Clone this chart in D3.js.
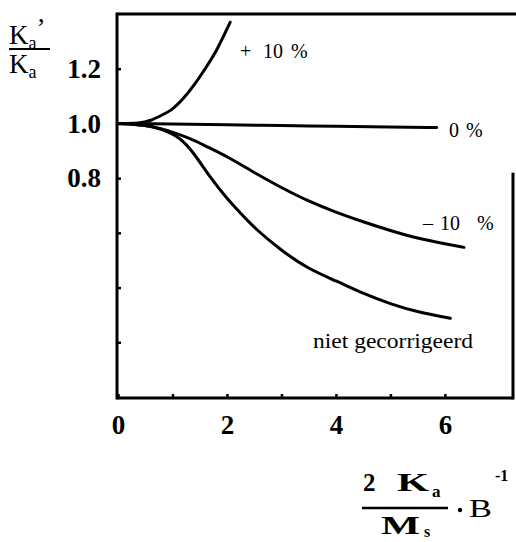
<!DOCTYPE html>
<html>
<head>
<meta charset="utf-8">
<script src="https://cdn.jsdelivr.net/npm/d3@7"></script>
<style>
  html, body { margin: 0; padding: 0; background: #fff; }
  svg { display: block; }
  text { font-family: "Liberation Serif", "DejaVu Serif", serif; fill: #000; }
</style>
</head>
<body>
<svg id="chart" width="516" height="542"></svg>
<script>
// Field values: x = 2Ka/Ms · B^-1, y = Ka'/Ka
const curveNames = ["+ 10 %", "0 %", "- 10 %", "niet gecorrigeerd"];

const plusTenX  = [0, 0.4, 0.6, 0.8, 1.0, 1.2, 1.4, 1.6, 1.8, 2.06];
const plusTenY  = [1.0, 1.0, 1.01, 1.03, 1.05, 1.09, 1.14, 1.2, 1.26, 1.37];

const zeroX     = [0, 1, 2, 3, 4, 5, 5.85];
const zeroY     = [1.0, 0.998, 0.995, 0.992, 0.99, 0.987, 0.985];

const minusTenX = [0, 0.5, 0.8, 1.0, 1.33, 1.6, 2.0, 2.5, 3.0, 3.5, 4.0, 4.5, 5.0, 5.5, 6.0, 6.35];
const minusTenY = [1.0, 0.995, 0.98, 0.968, 0.945, 0.918, 0.88, 0.82, 0.765, 0.715, 0.675, 0.64, 0.608, 0.58, 0.56, 0.547];

const rawX      = [0, 0.5, 0.8, 1.14, 1.4, 1.69, 2.0, 2.25, 2.5, 3.0, 3.5, 4.0, 4.5, 5.0, 5.5, 6.1];
const rawY      = [1.0, 0.995, 0.98, 0.95, 0.89, 0.803, 0.725, 0.672, 0.618, 0.535, 0.467, 0.425, 0.378, 0.34, 0.31, 0.288];

const xTicks = [0, 1, 2, 3, 4, 5, 6];
const xTickLabels = ["0", "", "2", "", "4", "", "6"];
const yTicks = [0.2, 0.4, 0.6, 0.8, 1.0, 1.2];
const yTickLabels = ["", "", "", "0.8", "1.0", "1.2"];

const svg = d3.select("#chart");

const x = d3.scaleLinear().domain([0, 7.25]).range([118, 513]);
const y = d3.scaleLinear().domain([0, 1.4]).range([397, 14]);

// Frame
const frame = svg.append("g").attr("stroke", "#000").attr("stroke-width", 3).attr("fill", "none");
frame.append("line").attr("x1", x(0) - 1).attr("x2", 516).attr("y1", y(1.4)).attr("y2", y(1.4));
frame.append("line").attr("x1", x(0) - 1).attr("x2", x(0) - 1).attr("y1", y(1.4) - 1.5).attr("y2", y(0) + 2.5);
frame.append("line").attr("x1", x(0) - 1).attr("x2", x(7.25)).attr("y1", y(0) + 1).attr("y2", y(0) + 1);
frame.append("line").attr("x1", x(7.25)).attr("x2", x(7.25)).attr("y1", y(0.82)).attr("y2", y(0) + 2.5);

// Axes with inward ticks
const xAxis = d3.axisBottom(x)
  .tickValues(xTicks)
  .tickSizeInner(-4)
  .tickSizeOuter(0)
  .tickPadding(17)
  .tickFormat((d, i) => xTickLabels[i]);

const gx = svg.append("g").attr("transform", `translate(0,${y(0) + 1})`).call(xAxis);
gx.select(".domain").remove();
gx.selectAll(".tick line").attr("stroke", "#000").attr("stroke-width", 2.5);
gx.selectAll(".tick text")
  .style("font-family", "'Liberation Serif', 'DejaVu Serif', serif")
  .style("font-weight", "bold")
  .style("font-size", "27px")
  .attr("fill", "#000");

const yAxis = d3.axisLeft(y)
  .tickValues(yTicks)
  .tickSizeInner(-4)
  .tickSizeOuter(0)
  .tickPadding(16)
  .tickFormat((d, i) => yTickLabels[i]);

const gy = svg.append("g").attr("transform", `translate(${x(0) - 1},0)`).call(yAxis);
gy.select(".domain").remove();
gy.selectAll(".tick line").attr("stroke", "#000").attr("stroke-width", 2.5);
gy.selectAll(".tick text")
  .style("font-family", "'Liberation Serif', 'DejaVu Serif', serif")
  .style("font-weight", "bold")
  .style("font-size", "27px")
  .attr("fill", "#000");

// Curves
const line = d3.line()
  .x(d => x(d[0]))
  .y(d => y(d[1]))
  .curve(d3.curveBasis);

const series = [
  [plusTenX, plusTenY],
  [zeroX, zeroY],
  [minusTenX, minusTenY],
  [rawX, rawY]
];

svg.append("g")
  .selectAll("path")
  .data(series)
  .join("path")
  .attr("d", s => line(s[0].map((v, i) => [v, s[1][i]])))
  .attr("fill", "none")
  .attr("stroke", "#000")
  .attr("stroke-width", 3)
  .attr("stroke-linecap", "round")
  .attr("stroke-linejoin", "round");

// Curve labels
const lbl = svg.append("g").style("font-size", "20px");
const [pSign, pNum, pPct] = curveNames[0].split(" ");
const t0 = lbl.append("text").attr("y", 58);
t0.append("tspan").attr("x", 240).text(pSign);
t0.append("tspan").attr("x", 263).text(pNum);
t0.append("tspan").attr("x", 291).text(pPct);

const [zNum, zPct] = curveNames[1].split(" ");
const t1 = lbl.append("text").attr("y", 137);
t1.append("tspan").attr("x", 449).text(zNum);
t1.append("tspan").attr("x", 466).text(zPct);

const [mSign, mNum, mPct] = curveNames[2].split(" ");
const t2 = lbl.append("text").attr("y", 230);
t2.append("tspan").attr("x", 423).text(mSign === "-" ? "\u2013" : mSign);
t2.append("tspan").attr("x", 440).text(mNum);
t2.append("tspan").attr("x", 477).text(mPct);

lbl.append("text").attr("x", 313).attr("y", 348)
  .attr("textLength", 160).attr("lengthAdjust", "spacingAndGlyphs")
  .text(curveNames[3]);

// Y-axis title: Ka' / Ka
const yt = svg.append("g").style("font-size", "27px");
const yTop = yt.append("text").attr("x", 9).attr("y", 44);
yTop.append("tspan").text("K");
yTop.append("tspan").attr("dy", 5).style("font-size", "18px").text("a");
yTop.append("tspan").attr("dy", -12).text("\u2019");
yt.append("line").attr("x1", 9).attr("x2", 50).attr("y1", 49).attr("y2", 49).attr("stroke", "#000").attr("stroke-width", 2);
const yBot = yt.append("text").attr("x", 9).attr("y", 73);
yBot.append("tspan").text("K");
yBot.append("tspan").attr("dy", 5).style("font-size", "18px").text("a");

// X-axis title: 2 Ka / Ms · B^-1
const xt = svg.append("g").style("font-size", "25px").style("font-weight", "bold");
xt.append("text").attr("x", 363).attr("y", 491).text("2");
xt.append("text").attr("x", 397).attr("y", 491)
  .attr("textLength", 32).attr("lengthAdjust", "spacingAndGlyphs").text("K");
xt.append("text").attr("x", 432).attr("y", 497).style("font-size", "17px").text("a");
xt.append("line").attr("x1", 362).attr("x2", 448).attr("y1", 508).attr("y2", 508)
  .attr("stroke", "#000").attr("stroke-width", 2.5);
xt.append("text").attr("x", 381).attr("y", 534)
  .attr("textLength", 39).attr("lengthAdjust", "spacingAndGlyphs").text("M");
xt.append("text").attr("x", 424).attr("y", 537).style("font-size", "16px").text("s");
xt.append("circle").attr("cx", 460).attr("cy", 510).attr("r", 2.2).attr("fill", "#000");
xt.append("text").attr("x", 469).attr("y", 517)
  .attr("textLength", 23).attr("lengthAdjust", "spacingAndGlyphs")
  .style("font-weight", "normal").text("B");
xt.append("text").attr("x", 495).attr("y", 481).style("font-size", "16px").text("-1");
</script>
</body>
</html>
